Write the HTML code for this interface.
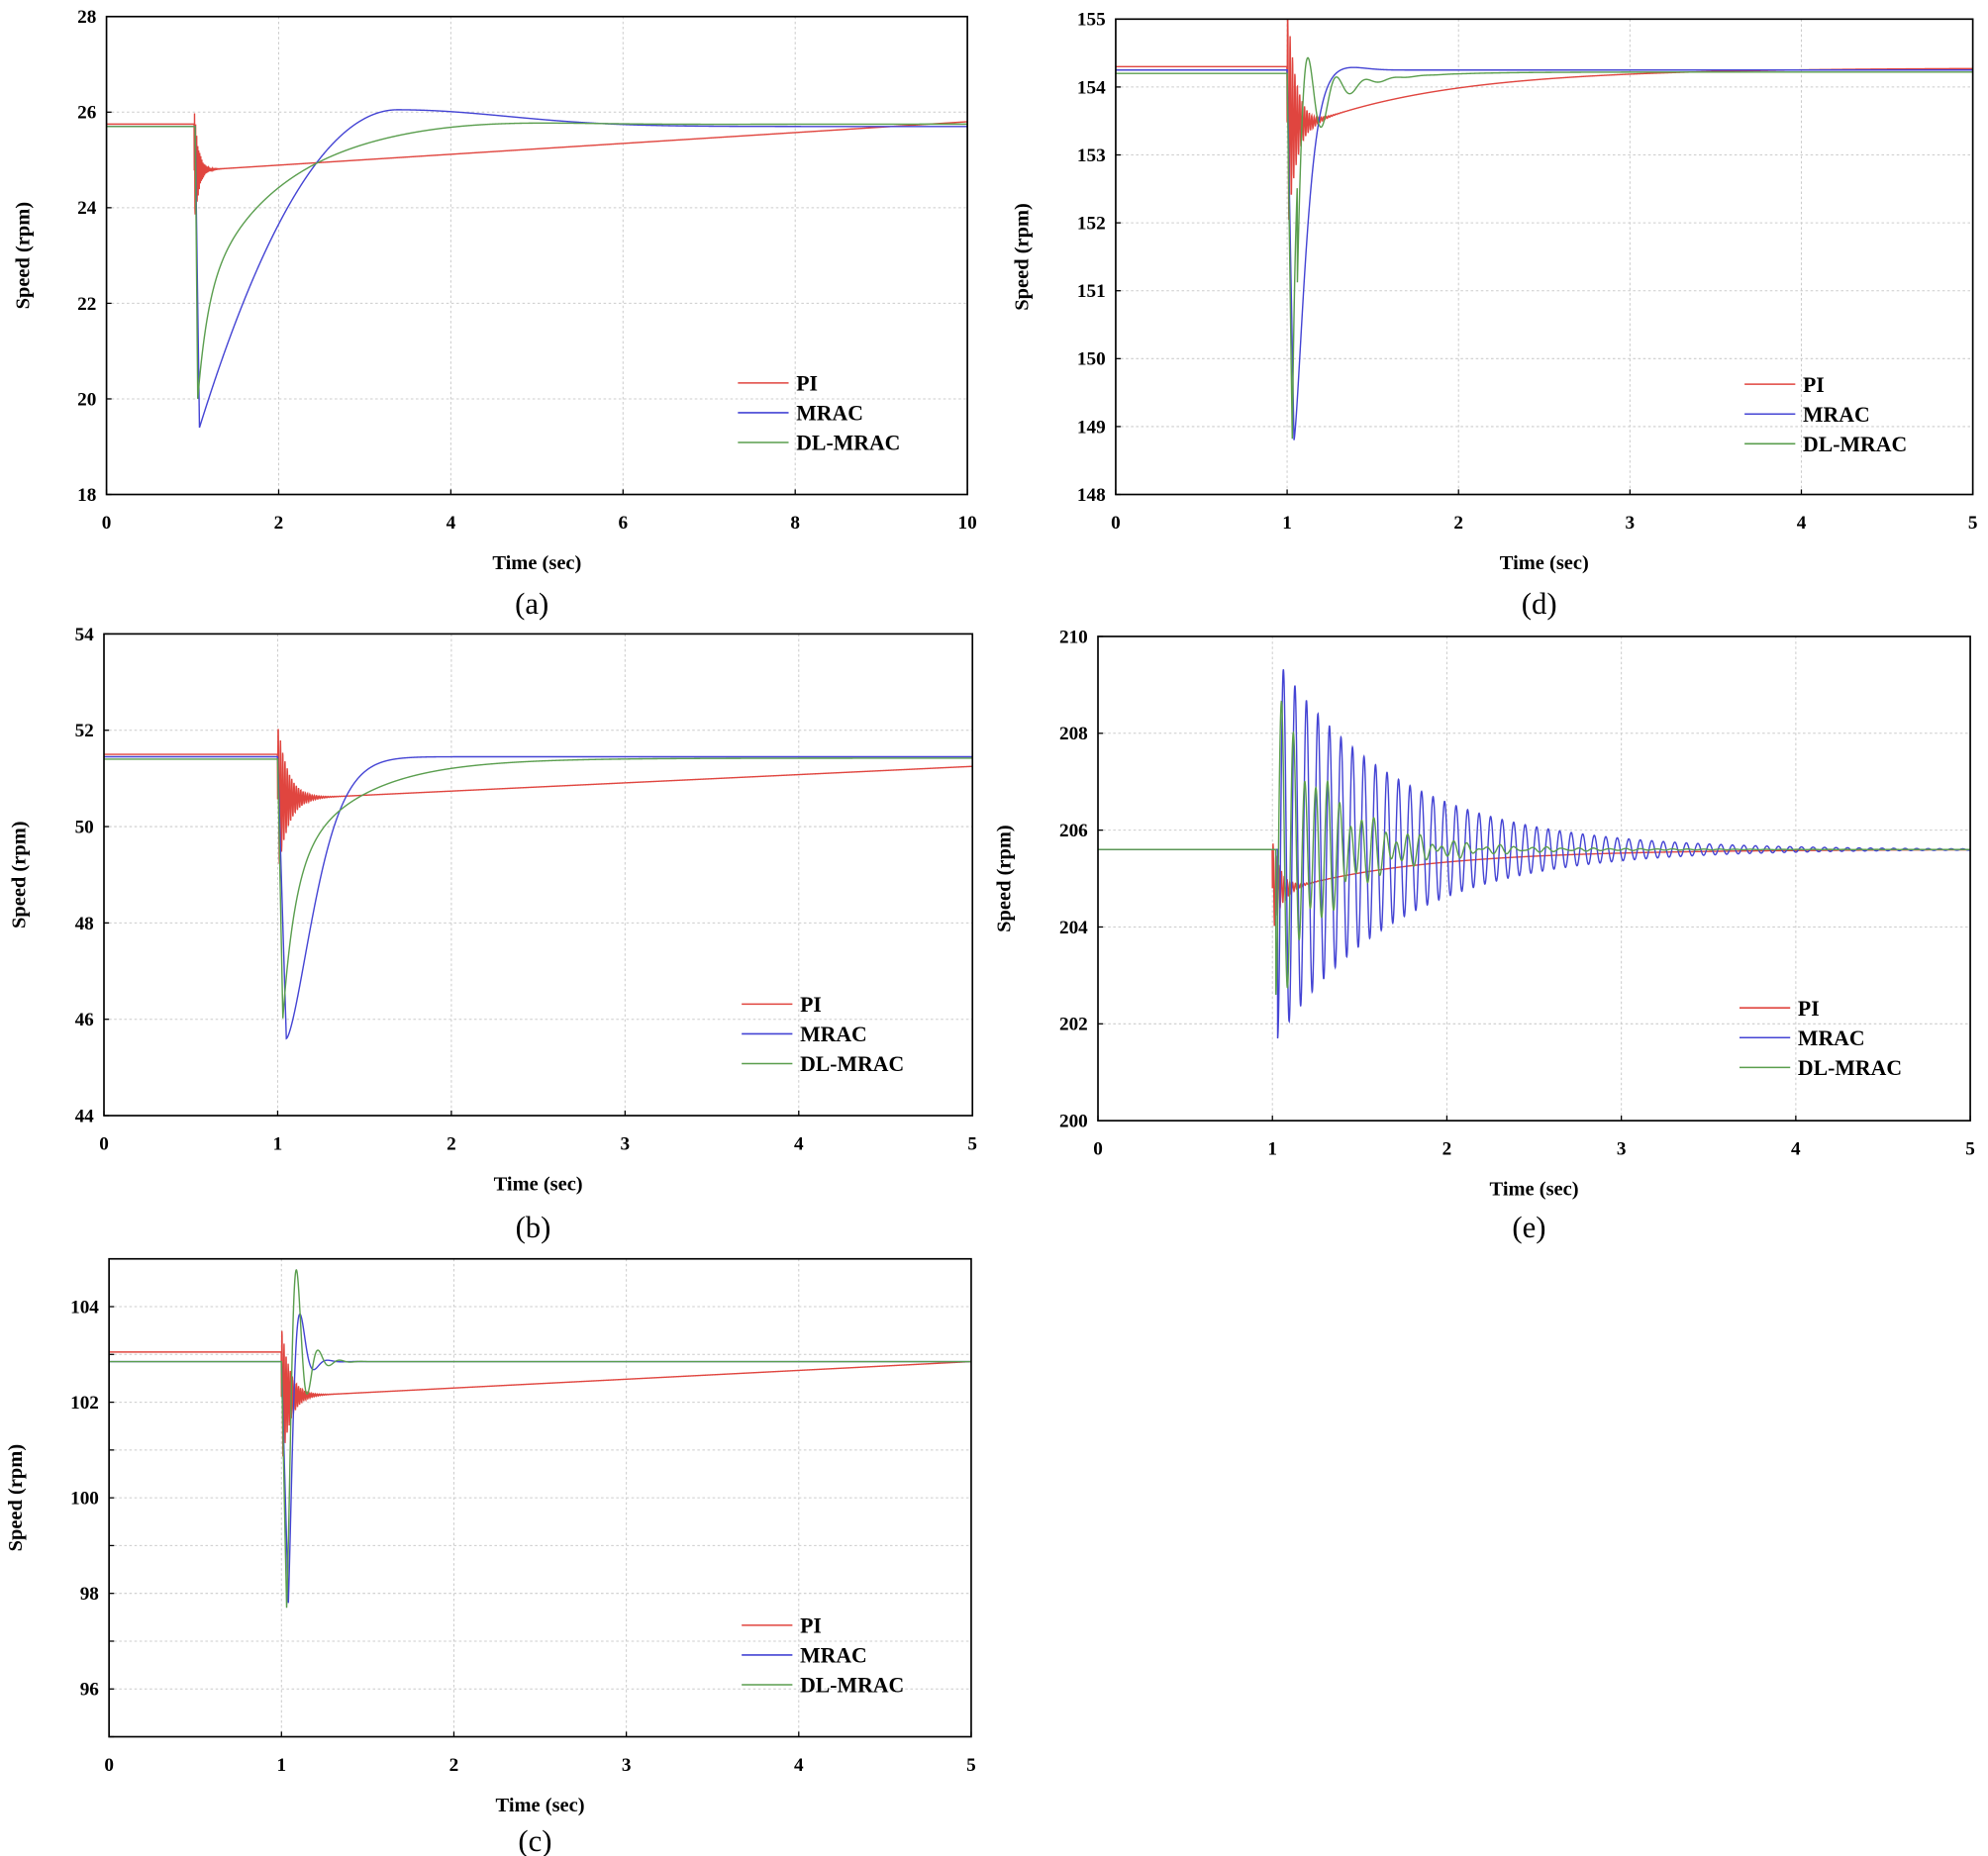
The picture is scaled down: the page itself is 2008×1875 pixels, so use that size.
<!DOCTYPE html>
<html><head><meta charset="utf-8"><style>
html,body{margin:0;padding:0;background:#fff}
svg{display:block}
text{font-family:"Liberation Serif",serif}
</style></head><body>
<svg id="s" width="2008" height="1875" viewBox="0 0 1568 1464" xmlns="http://www.w3.org/2000/svg"></svg>
<script>
const S=document.getElementById('s');let out='';
const R='#e0453f',B='#4444d4',G='#5a9e4e';
function ex(x){return Math.exp(x)}
function panel(p){
 const X=t=>p.x0+(p.x1-p.x0)*t/p.tmax, Y=v=>p.y1-(p.y1-p.y0)*(v-p.ymin)/(p.ymax-p.ymin);
 for(let v=p.ymin;v<=p.ymax+1e-9;v+=p.ystep){const y=Y(v);
  if(v>p.ymin&&v<p.ymax) out+=`<line x1="${p.x0}" x2="${p.x1}" y1="${y}" y2="${y}" stroke="#ccc" stroke-dasharray="2,2" stroke-width="0.8"/>`;
  if(!p.skip||!p.skip.includes(v)) out+=`<text x="${p.x0-8}" y="${y+5}" font-size="15" font-weight="bold" text-anchor="end">${v}</text>`;
  out+=`<line x1="${p.x0}" x2="${p.x0+4}" y1="${y}" y2="${y}" stroke="#000"/>`;}
 for(let t=0;t<=p.tmax+1e-9;t+=p.xstep){const x=X(t);
  if(t>0&&t<p.tmax) out+=`<line x1="${x}" x2="${x}" y1="${p.y0}" y2="${p.y1}" stroke="#ccc" stroke-dasharray="2,2" stroke-width="0.8"/>`;
  out+=`<text x="${x}" y="${p.y1+27}" font-size="15" font-weight="bold" text-anchor="middle">${t}</text>`;
  out+=`<line x1="${x}" x2="${x}" y1="${p.y1}" y2="${p.y1-4}" stroke="#000"/>`;}
 p.series.forEach(([f,c])=>{let d='';const N=4000;
  for(let i=0;i<=N;i++){const t=p.tmax*i/N;let v=f(t);v=Math.max(p.ymin,Math.min(p.ymax,v));d+=(i?'L':'M')+X(t).toFixed(2)+' '+Y(v).toFixed(2);}
  out+=`<path d="${d}" fill="none" stroke="${c}" stroke-width="1.1"/>`;});
 out+=`<rect x="${p.x0}" y="${p.y0}" width="${p.x1-p.x0}" height="${p.y1-p.y0}" fill="none" stroke="#000" stroke-width="1.3"/>`;
 const cx=(p.x0+p.x1)/2;
 out+=`<text x="${cx}" y="${p.y1+59}" font-size="16" font-weight="bold" text-anchor="middle">Time (sec)</text>`;
 out+=`<text x="${cx-4}" y="${p.lab_y}" font-size="24" text-anchor="middle">${p.lab}</text>`;
 const ly=(p.y0+p.y1)/2;
 out+=`<text transform="translate(${p.ylx},${ly}) rotate(-90)" font-size="16" font-weight="bold" text-anchor="middle">Speed (rpm)</text>`;
 [['PI',R],['MRAC',B],['DL-MRAC',G]].forEach(([n,c],i)=>{const y=p.leg[1]+i*23.5;
  out+=`<line x1="${p.leg[0]}" x2="${p.leg[0]+40}" y1="${y}" y2="${y}" stroke="${c}" stroke-width="1.2"/><text x="${p.leg[0]+46}" y="${y+6}" font-size="17" font-weight="bold">${n}</text>`;});
}
function osc(t,t0,A,tau,per){if(t<t0)return 0;const s=t-t0;return A*ex(-s/tau)*Math.sin(2*Math.PI*s/per);}
function drop(t,t0,base,low,tf){return base+(low-base)*Math.min(1,(t-t0)/tf);}
// (a)
panel({x0:84,x1:763,y0:13,y1:390,tmax:10,xstep:2,ymin:18,ymax:28,ystep:2,lab:'(a)',lab_y:484,ylx:23,leg:[582,302],
series:[
 [t=>{if(t<1.02)return 25.75;return 24.8+(t-1.2)/8.8*1.0+osc(t,1.02,1.3,0.05,0.012);},R],
 [t=>{if(t<1.03)return 25.7;if(t<1.08)return drop(t,1.03,25.7,19.4,0.05);const s=t-1.08;if(s<2.3){const f=s/2.3;return 19.4+6.65*(1-(1-f)*(1-f));}return 25.7+0.35*ex(-Math.pow((s-2.3)/1.8,2));},B],
 [t=>{if(t<1.03)return 25.7;if(t<1.06)return drop(t,1.03,25.7,20.0,0.03);const s=t-1.06;return 25.75-3.6*ex(-s/0.95)-2.15*ex(-s/0.12)+0.1*ex(-Math.pow((s-3.2)/1.5,2));},G]]});
// (d)
panel({x0:880,x1:1556,y0:15,y1:390,tmax:5,xstep:1,ymin:148,ymax:155,ystep:1,lab:'(d)',lab_y:484,ylx:811,leg:[1376,303],
series:[
 [t=>{if(t<1.0)return 154.3;return 154.28-0.8*ex(-Math.max(0,t-1.15)/0.85)+osc(t,1.0,1.8,0.05,0.014);},R],
 [t=>{if(t<1.0)return 154.25;if(t<1.04)return drop(t,1.0,154.25,148.8,0.04);const s=t-1.04;return 154.25-5.45*ex(-Math.pow(s/0.09,1.4))+0.05*ex(-Math.pow((s-0.3)/0.15,2));},B],
 [t=>{if(t<1.0)return 154.2;if(t<1.03)return drop(t,1.0,154.2,148.8,0.03);const s=t-1.03;return 154.22-5.4*ex(-s/0.025)+ (s>0.03? -1.4*ex(-(s-0.03)/0.12)*Math.cos(2*Math.PI*(s-0.03)/0.17+0.9)-0.6*ex(-(s-0.03)/0.3):0);},G]]});
// (b)
panel({x0:82,x1:767,y0:500,y1:880,tmax:5,xstep:1,ymin:44,ymax:54,ystep:2,lab:'(b)',lab_y:976,ylx:20,leg:[585,792],
series:[
 [t=>{if(t<1.0)return 51.5;return 50.6+(t-1.2)/3.8*0.65+osc(t,1.0,1.6,0.06,0.013);},R],
 [t=>{if(t<1.0)return 51.45;if(t<1.05)return drop(t,1.0,51.45,45.6,0.05);const s=t-1.05;return 51.45-5.85*ex(-Math.pow(s/0.22,1.5));},B],
 [t=>{if(t<1.0)return 51.4;if(t<1.03)return drop(t,1.0,51.4,46,0.03);const s=t-1.03;return 51.42-2.4*ex(-s/0.4)-3.0*ex(-s/0.07);},G]]});
// (e)
panel({x0:866,x1:1554,y0:502,y1:884,tmax:5,xstep:1,ymin:200,ymax:210,ystep:2,lab:'(e)',lab_y:976,ylx:797,leg:[1372,795],
series:[
 [t=>{if(t<1.0)return 205.6;return 205.6-0.8*ex(-Math.max(0,t-1.1)/0.8)+osc(t,1.0,1.0,0.05,0.016);},R],
 [t=>{if(t<1.03)return 205.6;const s=t-1.03;return 205.6-3.9*ex(-s/0.7)*Math.cos(2*Math.PI*s/0.066);},B],
 [t=>{if(t<1.02)return 205.6;const s=t-1.02;return 205.6-3.0*ex(-s/0.3)*Math.cos(2*Math.PI*s/0.066)+0.5*ex(-s/0.6)*Math.sin(2*Math.PI*s/0.09);},G]]});
// (c)
panel({x0:86,x1:766,y0:993,y1:1370,tmax:5,xstep:1,ymin:95,ymax:105,ystep:1,lab:'(c)',lab_y:1460,ylx:17,leg:[585,1282],skip:[95,97,99,101,103,105],
series:[
 [t=>{if(t<1.0)return 103.05;return 102.15+(t-1.2)/3.8*0.7+osc(t,1.0,1.5,0.05,0.012);},R],
 [t=>{if(t<1.0)return 102.85;if(t<1.04)return drop(t,1.0,102.85,97.8,0.04);const s=t-1.04;return 102.85-5.05*ex(-s/0.045)*Math.cos(2*Math.PI*s/0.16);},B],
 [t=>{if(t<1.0)return 102.85;if(t<1.03)return drop(t,1.0,102.85,97.7,0.03);const s=t-1.03;return 102.85-5.15*ex(-s/0.06)*Math.cos(2*Math.PI*s/0.125);},G]]});
S.innerHTML=out;
</script>
</body></html>
